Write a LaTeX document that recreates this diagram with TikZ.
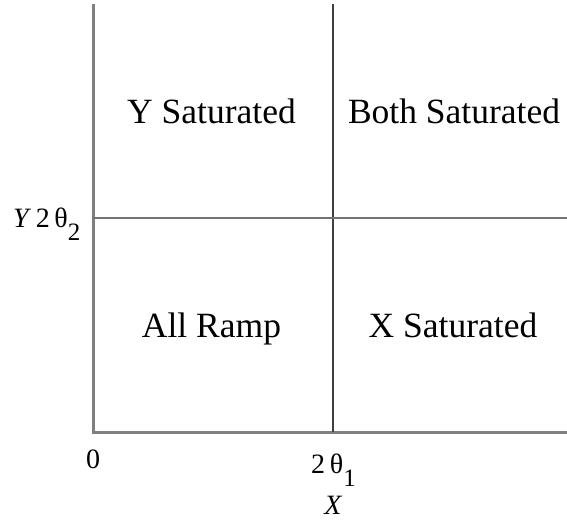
\documentclass[tikz,border=0pt]{standalone}
\usepackage{fontspec}
\setmainfont{Liberation Serif}
\begin{document}
\begin{tikzpicture}[x=1pt,y=-1pt,
  region/.style={anchor=base,inner sep=0pt,font=\fontsize{35.5}{40}\selectfont},
  ticklabel/.style={anchor=base,inner sep=0pt,font=\fontsize{28}{32}\selectfont},
  axis/.style={draw=black!50,line width=3pt},
  divider/.style={draw=black!75,line width=1.8pt},
  hdivider/.style={draw=black!55,line width=2.5pt}]
\useasboundingbox (0,0) rectangle (567,522);
\coordinate (top) at (93,5);
\coordinate (origin) at (93,432);
\coordinate (xend) at (567,432);
\coordinate (vtop) at (333,4);
\coordinate (vbot) at (333,432);
\coordinate (hleft) at (93,218);
\coordinate (hright) at (567,218);
\draw[axis,line cap=rect] (top) -- (origin) -- (xend);
\draw[divider] (vtop) -- (vbot);
\draw[hdivider] (hleft) -- (hright);
\node[region] (ys) at (211.5,123) {Y Saturated};
\node[region] (bs) at (454,123) {Both Saturated};
\node[region] (ar) at (211.5,337) {All Ramp};
\node[region] (xs) at (453,337) {X Saturated};
\node[ticklabel] (zero) at (93,468) {0};
\node[ticklabel,anchor=base west] (t1) at (311,473) {2\,θ\raisebox{-13pt}{\fontsize{25}{28}\selectfont 1}};
\node[ticklabel] (xl) at (333,514) {\itshape X};
\node[ticklabel,anchor=base west] (yl) at (13,227) {\itshape Y\upshape\ 2\,θ\raisebox{-13pt}{\fontsize{25}{28}\selectfont 2}};
\end{tikzpicture}
\end{document}
